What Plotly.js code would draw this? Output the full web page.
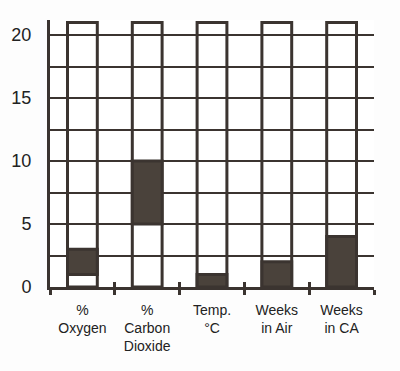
<!DOCTYPE html>
<html><head><meta charset="utf-8">
<script src="https://cdn.plot.ly/plotly-3.0.1.min.js"></script>
<style>html,body{margin:0;padding:0;background:#fdfdfd;}#chart{width:400px;height:371px;}</style>
</head><body><div id="chart"></div>
<script>
var categories = ["%<br>Oxygen", "%<br>Carbon<br>Dioxide", "Temp.<br>°C", "Weeks<br>in Air", "Weeks<br>in CA"];
var lowValues = [1, 5, 0, 0, 0];
var highValues = [3, 10, 1, 2, 4];
var boxMax = 21;
var yTickVals = [0, 5, 10, 15, 20];

var ink = '#3b3430';
var fill = '#4a423b';

var boxTrace = {
  type: 'bar', x: categories, y: categories.map(function(){return boxMax;}), base: 0,
  width: 0.46,
  marker: {color: 'rgba(0,0,0,0)', line: {color: ink, width: 3}},
  hoverinfo: 'skip', showlegend: false
};
var fillTrace = {
  type: 'bar', x: categories,
  y: highValues.map(function(h, i){return h - lowValues[i];}),
  base: lowValues,
  width: 0.46,
  marker: {color: fill, line: {color: ink, width: 3}},
  hoverinfo: 'skip', showlegend: false
};

var layout = {
  width: 400, height: 371,
  margin: {l: 50, r: 26, t: 20, b: 84},
  paper_bgcolor: '#fdfdfd', plot_bgcolor: '#ffffff',
  barmode: 'overlay',
  showlegend: false,
  font: {family: '"Liberation Sans", Arial, sans-serif', color: '#222'},
  xaxis: {
    type: 'category', tickson: 'boundaries',
    showgrid: false, zeroline: false,
    showline: true, linecolor: ink, linewidth: 3,
    ticks: 'outside', ticklen: 5, tickwidth: 3, tickcolor: ink,
    ticklabelstandoff: 8,
    tickfont: {size: 14, color: '#222'},
    range: [-0.5, 4.5]
  },
  xaxis2: {
    overlaying: 'x', anchor: 'y', side: 'bottom', type: 'linear',
    range: [-0.5, 4.5], tickvals: [0.5, 1.5, 2.5, 3.5, 4.5],
    showticklabels: false, showgrid: false, zeroline: false, showline: false,
    ticks: 'inside', ticklen: 5, tickwidth: 3, tickcolor: ink
  },
  yaxis: {
    range: [0, 21.2],
    tickvals: yTickVals,
    showgrid: true, gridcolor: ink, gridwidth: 2,
    minor: {dtick: 2.5, tick0: 0, showgrid: true, gridcolor: ink, gridwidth: 2, ticks: ''},
    zeroline: false,
    showline: true, linecolor: ink, linewidth: 3,
    ticks: '', ticklabelstandoff: 12,
    tickfont: {size: 18, color: '#222'}
  }
};

Plotly.newPlot('chart', [boxTrace, fillTrace, {type:'scatter', x:[], y:[], xaxis:'x2', yaxis:'y', showlegend:false, hoverinfo:'skip'}], layout, {staticPlot: true});
</script></body></html>
